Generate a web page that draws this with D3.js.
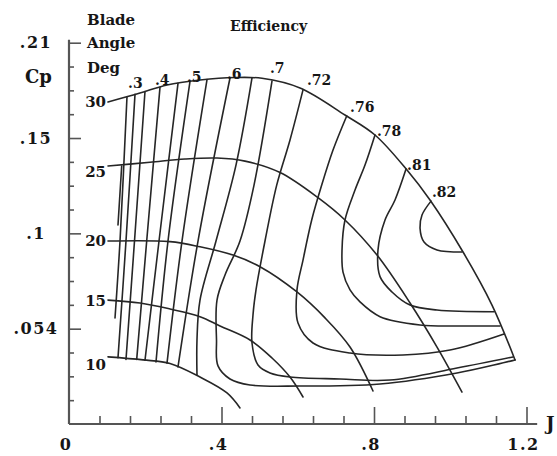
<!DOCTYPE html>
<html>
<head>
<meta charset="utf-8">
<script src="https://cdn.jsdelivr.net/npm/d3@7"></script>
<style>
  html, body { margin: 0; padding: 0; background: #fff; }
  svg { display: block; font-family: "DejaVu Serif", "Liberation Serif", serif; font-weight: bold; }
</style>
</head>
<body>
<svg id="chart" width="557" height="456"></svg>
<script>
// ---- Axes ----
const jMajor = [0, 0.4, 0.8, 1.2];
const jLabels = ["0", ".4", ".8", "1.2"];
const cpMajor = [0, 0.054, 0.1, 0.15, 0.21];
const cpLabels = ["", ".054", ".1", ".15", ".21"];

// ---- Blade angle lines (deg), points as [J, Cp] ----
const bladeAngles = ["30", "25", "20", "15", "10"];
const blade30 = [[.1023,.1727],[.1862,.1783],[.2571,.1834],[.3436,.1865],[.4354,.1881],[.5062,.1876],[.6059,.1815],[.7239,.1645],[.8026,.1519],[.8866,.1332],[.9469,.1175],[1.0335,.0910],[1.1095,.0654],[1.1699,.0363]];
const blade25 = [[.1023,.1353],[.2125,.1373],[.3043,.1390],[.3882,.1395],[.4617,.1379],[.5535,.1319],[.6531,.1187],[.7239,.1070],[.8079,.0895],[.8945,.0664],[.9653,.0436],[1.0308,.0181]];
const blade20 = [[.1023,.0963],[.2649,.0960],[.3436,.0935],[.4302,.0895],[.5010,.0839],[.5980,.0717],[.6715,.0592],[.7371,.0436],[.7974,.0187]];
const blade15 = [[.1023,.0678],[.1862,.0664],[.2649,.0635],[.3436,.0598],[.3961,.0553],[.4748,.0476],[.5325,.0374],[.5797,.0266],[.6138,.0153]];
const blade10 = [[.1023,.0380],[.1941,.0363],[.2649,.0343],[.3436,.0266],[.4144,.0176],[.4485,.0091]];
const bladeLabelJ = [.0971, .0971, .0971, .0971, .0971];
const bladeLabelCp = [.1727, .1322, .0963, .0674, .0334];

// ---- Efficiency contours, points as [J, Cp] ----
const effStub = [[.1382,.1353],[.1285,.1044]];
const eff30 = [[.1521,.1760],[.1338,.0963],[.1207,.0592]];
const eff35 = [[.1731,.1775],[.1495,.0963],[.1285,.0375]];
const eff38 = [[.1993,.1793],[.1718,.0963],[.1495,.0365]];
const eff40 = [[.2387,.1820],[.2038,.0963],[.1776,.0366]];
const eff45 = [[.2859,.1844],[.2361,.0963],[.1993,.0361]];
const eff50 = [[.3174,.1856],[.2597,.0963],[.2282,.0351]];
const eff55 = [[.3620,.1868],[.2964,.0963],[.2571,.0345]];
const eff60 = [[.4223,.1878],[.3384,.0963],[.2859,.0323]];
const eff65 = [[.4800,.1878],[.4380,.1358],[.3856,.0963],[.3436,.0678],[.3357,.0476],[.3357,.0278]];
const eff70 = [[.5325,.1859],[.4853,.1253],[.4485,.0963],[.4092,.0799],[.3882,.0678],[.3869,.0476],[.3908,.0329],[.4223,.0255],[.4748,.0221],[.6059,.0215],[.8158,.0227],[1.0177,.0289],[1.1699,.0363]];
const eff72 = [[.6138,.1803],[.5797,.1490],[.5448,.1253],[.5141,.0963],[.4905,.0727],[.4826,.0606],[.4800,.0459],[.4957,.0334],[.5272,.0289],[.5797,.0266],[.7108,.0255],[.8420,.0249],[1.0177,.0317],[1.1646,.0380]];
const eff76 = [[.7284,.1639],[.6925,.1437],[.6628,.1253],[.6366,.1070],[.6138,.0871],[.5980,.0727],[.6007,.0567],[.6400,.0459],[.7371,.0402],[.8761,.0391],[.9994,.0419],[1.1410,.0510]];
const eff78 = [[.8026,.1519],[.7764,.1358],[.7502,.1227],[.7239,.1070],[.7161,.0920],[.7187,.0813],[.7371,.0727],[.7633,.0669],[.8158,.0598],[.9207,.0558],[1.0256,.0553],[1.1305,.0553]];
const eff81 = [[.8840,.1337],[.8551,.1175],[.8289,.1070],[.8105,.0920],[.8158,.0791],[.8472,.0717],[.8945,.0654],[.9653,.0630],[1.1148,.0622]];
const eff82 = [[.9495,.1169],[.9259,.1096],[.9207,.1028],[.9312,.0958],[.9653,.0920],[1.0308,.0910]];

const effLabels = [".3", ".4", ".5", ".6", ".7", ".72", ".76", ".78", ".81", ".82"];
const effLabelJ = [.1548, .2256, .3095, .4144, .5272, .6243, .7371, .8079, .8866, .9521];
const effLabelCp = [.1815, .1834, .1853, .1871, .1909, .1834, .1664, .1513, .1332, .1190];

// ---- Layout ----
const svg = d3.select("#chart");
const plotLeft = 69, plotRight = 526.5, plotBottom = 424, plotTop = 42.7;
const ink = "#262626", axisInk = "#555", textInk = "#161616";

const x = d3.scaleLinear().domain([0, 1.2]).range([plotLeft, plotRight]);
// Cp axis: labelled values sit on evenly spaced major ticks
const y = d3.scaleLinear()
  .domain(cpMajor)
  .range(cpMajor.map((d, i) => plotBottom - i * (plotBottom - plotTop) / (cpMajor.length - 1)));

const jMinor = d3.range(1, 16).filter(k => k % 5).map(k => k * 0.08);
const cpMinor = d3.pairs(cpMajor).flatMap(([a, b]) => [1, 2, 3].map(k => a + (b - a) * k / 4));

// y axis (ticks point into the plot)
const yAxisG = svg.append("g").attr("transform", `translate(${x(0)},0)`);
yAxisG.call(d3.axisRight(y).tickValues(cpMajor.slice(1)).tickSize(12).tickSizeOuter(0).tickFormat(""));
yAxisG.append("g").call(d3.axisRight(y).tickValues(cpMinor).tickSize(5).tickSizeOuter(0).tickFormat(""))
  .select(".domain").remove();
yAxisG.select(".domain").attr("d", `M0,${y(0)}V${y(0.2118)}`);

// x axis (ticks point up into the plot)
const xAxisG = svg.append("g").attr("transform", `translate(0,${y(0)})`);
xAxisG.call(d3.axisTop(x).tickValues(jMajor.slice(1)).tickSize(17).tickSizeOuter(0).tickFormat(""));
xAxisG.append("g").call(d3.axisTop(x).tickValues(jMinor).tickSize(8).tickSizeOuter(0).tickFormat(""))
  .select(".domain").remove();
xAxisG.select(".domain").attr("d", `M${x(0)},0H${x(1.228)}`);

svg.selectAll(".domain").attr("stroke", axisInk).attr("stroke-width", 2.2);
svg.selectAll(".tick line").attr("stroke", axisInk).attr("stroke-width", 1.6);

// tick labels
svg.append("g").selectAll("text")
  .data(cpMajor.slice(1))
  .join("text")
  .attr("x", 36).attr("y", d => y(d)).attr("dy", "0.36em")
  .attr("text-anchor", "middle")
  .attr("font-size", 16).attr("letter-spacing", 1.5).attr("fill", textInk)
  .text((d, i) => cpLabels[i + 1]);

svg.append("g").selectAll("text")
  .data(jMajor)
  .join("text")
  .attr("x", d => x(d) - 3).attr("y", y(0) + 26)
  .attr("text-anchor", "middle")
  .attr("font-size", 16).attr("letter-spacing", 1.5).attr("fill", textInk)
  .text((d, i) => jLabels[i]);

svg.append("text").attr("x", 25).attr("y", 83).attr("font-size", 18).attr("fill", textInk).text("Cp");
svg.append("text").attr("x", 546).attr("y", 430).attr("font-size", 18).attr("fill", textInk).text("J");

// headings
const headG = svg.append("g").attr("font-size", 15).attr("fill", textInk);
headG.append("text").attr("x", 87).attr("y", 25).text("Blade");
headG.append("text").attr("x", 87).attr("y", 48).text("Angle");
headG.append("text").attr("x", 87).attr("y", 73).text("Deg");
svg.append("text").attr("x", 230).attr("y", 31).attr("font-size", 14).attr("fill", textInk).text("Efficiency");

// curves
const line = d3.line()
  .x(d => x(d[0]))
  .y(d => y(d[1]))
  .curve(d3.curveCatmullRom.alpha(0.5));

const bladeLines = [blade30, blade25, blade20, blade15, blade10];
const effLines = [effStub, eff30, eff35, eff38, eff40, eff45, eff50, eff55, eff60, eff65,
                  eff70, eff72, eff76, eff78, eff81, eff82];

svg.append("g")
  .attr("fill", "none").attr("stroke", ink).attr("stroke-width", 1.6)
  .attr("stroke-linejoin", "round").attr("stroke-linecap", "round")
  .selectAll("path")
  .data(effLines.concat(bladeLines))
  .join("path")
  .attr("d", line);

// blade angle labels
svg.append("g").attr("font-size", 15).attr("fill", textInk)
  .selectAll("text")
  .data(bladeAngles)
  .join("text")
  .attr("x", (d, i) => x(bladeLabelJ[i]))
  .attr("y", (d, i) => y(bladeLabelCp[i]))
  .attr("dy", "0.36em")
  .attr("text-anchor", "end")
  .text(d => d);

// efficiency labels
svg.append("g").attr("font-size", 14).attr("fill", textInk)
  .selectAll("text")
  .data(effLabels)
  .join("text")
  .attr("x", (d, i) => x(effLabelJ[i]))
  .attr("y", (d, i) => y(effLabelCp[i]))
  .text(d => d);
</script>
</body>
</html>
